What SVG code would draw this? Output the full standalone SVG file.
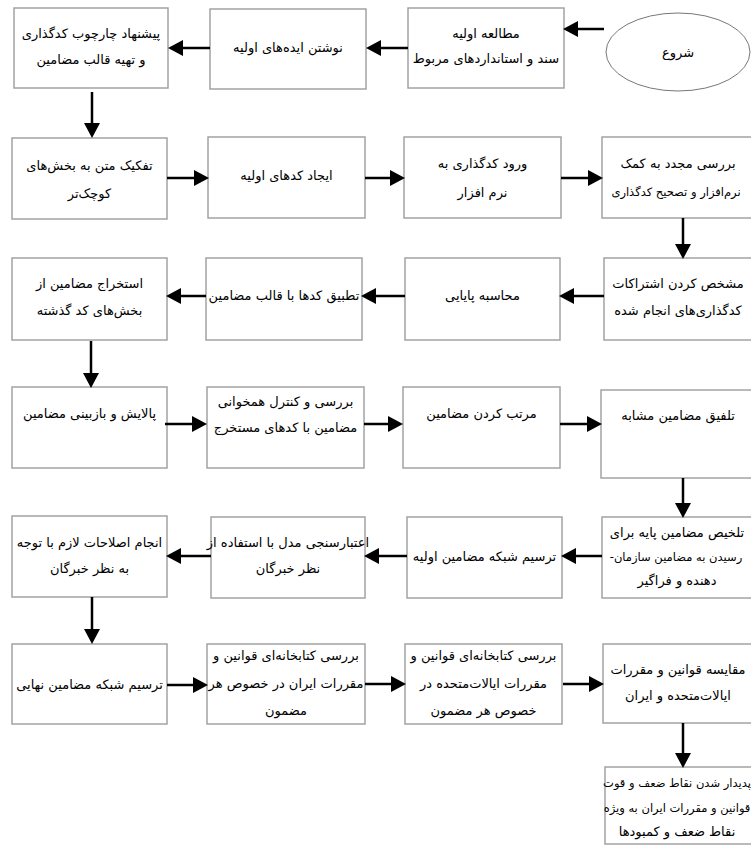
<svg xmlns="http://www.w3.org/2000/svg" width="751" height="846" viewBox="0 0 751 846">
<defs>
<style>
.bx{fill:#ffffff;stroke:#a3a3a3;stroke-width:1.5}
.t{font-family:"DejaVu Sans","Noto Sans",sans-serif;font-size:13px;fill:#000;direction:rtl;text-anchor:middle}
.s{font-size:11.5px}
.c{stroke:#000;stroke-width:2.5;fill:none;marker-end:url(#ah)}
</style>
<marker id="ah" markerUnits="userSpaceOnUse" markerWidth="16" markerHeight="16" refX="4" refY="8" orient="auto">
<path d="M0,0 L15,8 L0,16 Z" fill="#000"/>
</marker>
</defs>
<rect width="751" height="846" fill="#fff"/>

<g id="start">
<ellipse cx="678" cy="52" rx="72" ry="39" fill="#fff" stroke="#777" stroke-width="1"/>
<text class="t" x="678" y="57">شروع</text>
</g>
<g id="n1">
<rect class="bx" x="408" y="8" width="156" height="80"/>
<text class="t" x="486" y="38">مطالعه اولیه</text>
<text class="t" x="486" y="63">سند و استانداردهای مربوط</text>
</g>
<g id="n2">
<rect class="bx" x="210" y="9" width="156" height="80"/>
<text class="t" x="288" y="52">نوشتن ایده‌های اولیه</text>
</g>
<g id="n3">
<rect class="bx" x="14" y="8" width="154" height="80"/>
<text class="t" x="91" y="38">پیشنهاد چارچوب کدگذاری</text>
<text class="t" x="91" y="64">و تهیه قالب مضامین</text>
</g>

<g id="n4">
<rect class="bx" x="12" y="138" width="155" height="81"/>
<text class="t" x="89.5" y="170">تفکیک متن به بخش‌های</text>
<text class="t" x="89.5" y="198">کوچک‌تر</text>
</g>
<g id="n5">
<rect class="bx" x="208" y="137" width="157" height="81"/>
<text class="t" x="286.5" y="180">ایجاد کدهای اولیه</text>
</g>
<g id="n6">
<rect class="bx" x="404" y="137" width="157" height="81"/>
<text class="t" x="482.5" y="168">ورود کدگذاری به</text>
<text class="t" x="482.5" y="197">نرم افزار</text>
</g>
<g id="n7">
<rect class="bx" x="602" y="137" width="158" height="81"/>
<text class="t" x="678" y="168">بررسی مجدد به کمک</text>
<text class="t s" x="676" y="196">نرم‌افزار و تصحیح کدگذاری</text>
</g>

<g id="n8">
<rect class="bx" x="604" y="258" width="156" height="82"/>
<text class="t" x="678" y="288">مشخص کردن اشتراکات</text>
<text class="t" x="678" y="315">کدگذاری‌های انجام شده</text>
</g>
<g id="n9">
<rect class="bx" x="405" y="258" width="155" height="82"/>
<text class="t" x="482.5" y="300">محاسبه پایایی</text>
</g>
<g id="n10">
<rect class="bx" x="206" y="258" width="156" height="82"/>
<text class="t" x="284" y="300">تطبیق کدها با قالب مضامین</text>
</g>
<g id="n11">
<rect class="bx" x="12" y="258" width="155" height="82"/>
<text class="t" x="89.5" y="288">استخراج مضامین از</text>
<text class="t" x="89.5" y="315">بخش‌های کد گذشته</text>
</g>

<g id="n12">
<rect class="bx" x="12" y="387" width="155" height="81"/>
<text class="t" x="89.5" y="418">پالایش و بازبینی مضامین</text>
</g>
<g id="n13">
<rect class="bx" x="207" y="387" width="157" height="81"/>
<text class="t" x="285.5" y="406">بررسی و کنترل همخوانی</text>
<text class="t" x="285.5" y="432">مضامین با کدهای مستخرج</text>
</g>
<g id="n14">
<rect class="bx" x="403" y="387" width="157" height="81"/>
<text class="t" x="481.5" y="418">مرتب کردن مضامین</text>
</g>
<g id="n15">
<rect class="bx" x="601" y="390" width="159" height="88"/>
<text class="t" x="678" y="420">تلفیق مضامین مشابه</text>
</g>

<g id="n16">
<rect class="bx" x="602" y="517" width="158" height="81"/>
<text class="t" x="677" y="537">تلخیص مضامین پایه برای</text>
<text class="t s" x="676" y="561">رسیدن به مضامین سازمان-</text>
<text class="t" x="677" y="585">دهنده و فراگیر</text>
</g>
<g id="n17">
<rect class="bx" x="407" y="517" width="155" height="81"/>
<text class="t" x="484.5" y="561">ترسیم شبکه مضامین اولیه</text>
</g>
<g id="n18">
<rect class="bx" x="211" y="517" width="154" height="81"/>
<text class="t" x="288" y="547">اعتبارسنجی مدل با استفاده از</text>
<text class="t" x="288" y="573">نظر خبرگان</text>
</g>
<g id="n19">
<rect class="bx" x="12" y="516" width="155" height="81"/>
<text class="t" x="89.5" y="547">انجام اصلاحات لازم با توجه</text>
<text class="t" x="89.5" y="573">به نظر خبرگان</text>
</g>

<g id="n20">
<rect class="bx" x="12" y="644" width="155" height="80"/>
<text class="t" x="89.5" y="689">ترسیم شبکه مضامین نهایی</text>
</g>
<g id="n21">
<rect class="bx" x="207" y="644" width="158" height="80"/>
<text class="t" x="286" y="660">بررسی کتابخانه‌ای قوانین و</text>
<text class="t" x="286" y="688">مقررات ایران در خصوص هر</text>
<text class="t" x="286" y="715">مضمون</text>
</g>
<g id="n22">
<rect class="bx" x="405" y="644" width="157" height="80"/>
<text class="t" x="483.5" y="660">بررسی کتابخانه‌ای قوانین و</text>
<text class="t" x="483.5" y="688">مقررات ایالات‌متحده در</text>
<text class="t" x="483.5" y="715">خصوص هر مضمون</text>
</g>
<g id="n23">
<rect class="bx" x="603" y="644" width="157" height="79"/>
<text class="t" x="678" y="674">مقایسه قوانین و مقررات</text>
<text class="t" x="678" y="700">ایالات‌متحده و ایران</text>
</g>
<g id="n24">
<rect class="bx" x="605" y="767" width="155" height="77"/>
<text class="t s" x="677" y="787">پدیدار شدن نقاط ضعف و قوت</text>
<text class="t s" x="677" y="812">قوانین و مقررات ایران به ویژه</text>
<text class="t" x="677" y="836">نقاط ضعف و کمبودها</text>
</g>

<g id="connectors">
<line class="c" x1="604" y1="29" x2="574" y2="29"/>
<line class="c" x1="408" y1="48" x2="377" y2="48"/>
<line class="c" x1="210" y1="48" x2="179" y2="48"/>
<line class="c" x1="92" y1="92" x2="92" y2="127"/>
<line class="c" x1="167" y1="178" x2="198" y2="178"/>
<line class="c" x1="365" y1="178" x2="394" y2="178"/>
<line class="c" x1="561" y1="178" x2="592" y2="178"/>
<line class="c" x1="683" y1="218" x2="683" y2="248"/>
<line class="c" x1="604" y1="296" x2="570" y2="296"/>
<line class="c" x1="405" y1="296" x2="372" y2="296"/>
<line class="c" x1="206" y1="296" x2="177" y2="296"/>
<line class="c" x1="91" y1="341" x2="91" y2="377"/>
<line class="c" x1="165" y1="424" x2="196" y2="424"/>
<line class="c" x1="364" y1="424" x2="392" y2="424"/>
<line class="c" x1="560" y1="424" x2="591" y2="424"/>
<line class="c" x1="683" y1="478" x2="683" y2="507"/>
<line class="c" x1="602" y1="556" x2="572" y2="556"/>
<line class="c" x1="407" y1="556" x2="375" y2="556"/>
<line class="c" x1="211" y1="556" x2="177" y2="556"/>
<line class="c" x1="92" y1="597" x2="92" y2="633"/>
<line class="c" x1="167" y1="685" x2="197" y2="685"/>
<line class="c" x1="365" y1="684" x2="395" y2="684"/>
<line class="c" x1="563" y1="684" x2="593" y2="684"/>
<line class="c" x1="683" y1="723" x2="683" y2="757"/>
</g>
</svg>
